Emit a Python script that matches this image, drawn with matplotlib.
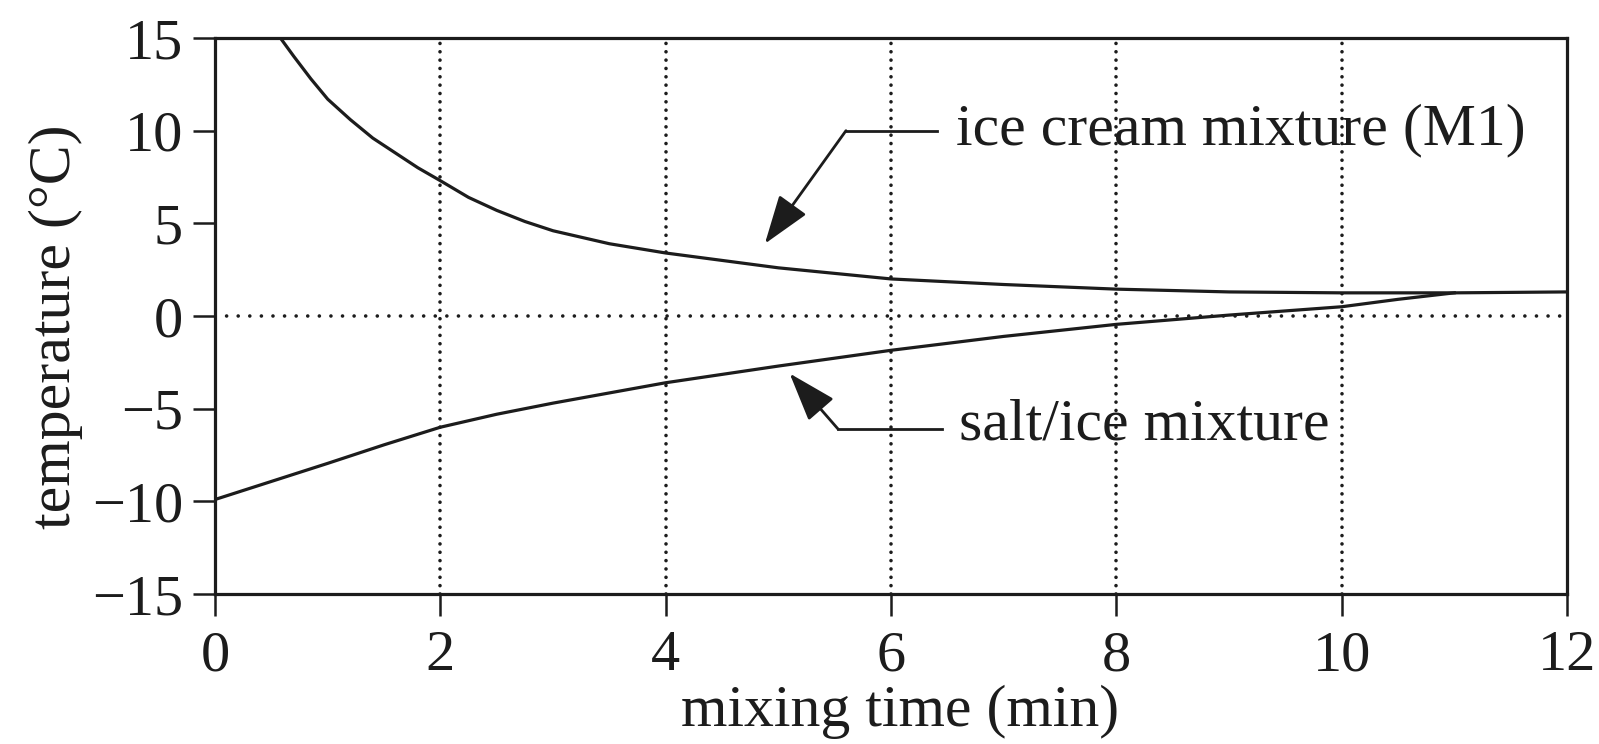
import matplotlib
matplotlib.use("Agg")
import matplotlib.pyplot as plt

# values (local to the grid)
ice_cream_time = [0.58, 0.7, 0.85, 1.0, 1.2, 1.4, 1.6, 1.8, 2.0, 2.25, 2.5, 2.75, 3.0, 3.5,
                  4.0, 4.5, 5.0, 5.5, 6.0, 7.0, 8.0, 9.0, 10.0, 11.0, 12.0]
ice_cream_temp = [15.0, 14.0, 12.8, 11.7, 10.6, 9.6, 8.8, 8.0, 7.3, 6.4, 5.7, 5.1, 4.6, 3.9,
                  3.4, 3.0, 2.6, 2.3, 2.0, 1.7, 1.45, 1.3, 1.25, 1.25, 1.3]

salt_ice_time = [0.0, 1.0, 1.5, 2.0, 2.5, 3.0, 4.0, 5.0, 6.0, 7.0, 8.0, 9.0, 10.0, 10.5, 11.0]
salt_ice_temp = [-9.9, -7.95, -6.95, -6.0, -5.3, -4.7, -3.6, -2.7, -1.85, -1.1, -0.45, 0.05, 0.5, 0.9, 1.25]

x_ticks = [0, 2, 4, 6, 8, 10, 12]
y_ticks = [-15, -10, -5, 0, 5, 10, 15]

ink = "#1c1c1c"
plt.rcParams["font.family"] = ["Liberation Serif", "DejaVu Serif"]

fig = plt.figure(figsize=(15.99, 7.44), dpi=100)
ax = fig.add_axes([0.1345, 0.2016, 0.8455, 0.7473])

ax.plot(ice_cream_time, ice_cream_temp, color=ink, lw=2.3, solid_joinstyle="round")
ax.plot(salt_ice_time, salt_ice_temp, color=ink, lw=2.3, solid_joinstyle="round")

ax.set_xlim(0, 12)
ax.set_ylim(-15, 15)
ax.set_xticks(x_ticks)
ax.set_yticks(y_ticks)

# dotted grid: verticals at every inner x tick, only zero horizontally
for xv in x_ticks[1:-1]:
    ax.axvline(xv, color=ink, lw=2.6, linestyle=(0, (0.01, 2.3)),
               dash_capstyle="round", zorder=0)
ax.axhline(0, color=ink, lw=2.6, linestyle=(0, (0.01, 3.2)),
           dash_capstyle="round", zorder=0)

for s in ax.spines.values():
    s.set_linewidth(2.3)
    s.set_color(ink)

ax.tick_params(direction="out", length=16, width=1.8, colors=ink,
               labelsize=42, top=False, right=False)
ax.tick_params(axis="y", pad=7)
ax.tick_params(axis="x", pad=10)

ax.set_xlabel("mixing time (min)", fontsize=43, color=ink)
ax.set_ylabel("temperature (°C)", fontsize=43, color=ink)
ax.xaxis.set_label_coords(0.507, -0.163)
ax.yaxis.set_label_coords(-0.098, 0.48)

# callouts with elbow leaders
arrow_kw = dict(arrowstyle="-|>,head_length=1.6,head_width=0.55", color=ink,
                lw=2.0, mutation_scale=19, shrinkA=0, shrinkB=0)

ax.plot([5.60, 6.41], [10.0, 10.0], color=ink, lw=2.0)
ax.annotate("", xy=(4.88, 3.9), xytext=(5.60, 10.0), arrowprops=arrow_kw)
ax.text(6.58, 10.0, "ice cream mixture (M1)", fontsize=43, color=ink,
        ha="left", va="center")

ax.plot([5.53, 6.45], [-6.1, -6.1], color=ink, lw=2.0)
ax.annotate("", xy=(5.10, -3.1), xytext=(5.53, -6.1), arrowprops=arrow_kw)
ax.text(6.6, -5.9, "salt/ice mixture", fontsize=43, color=ink,
        ha="left", va="center")

fig.savefig("out.png", dpi=100, facecolor="white")
